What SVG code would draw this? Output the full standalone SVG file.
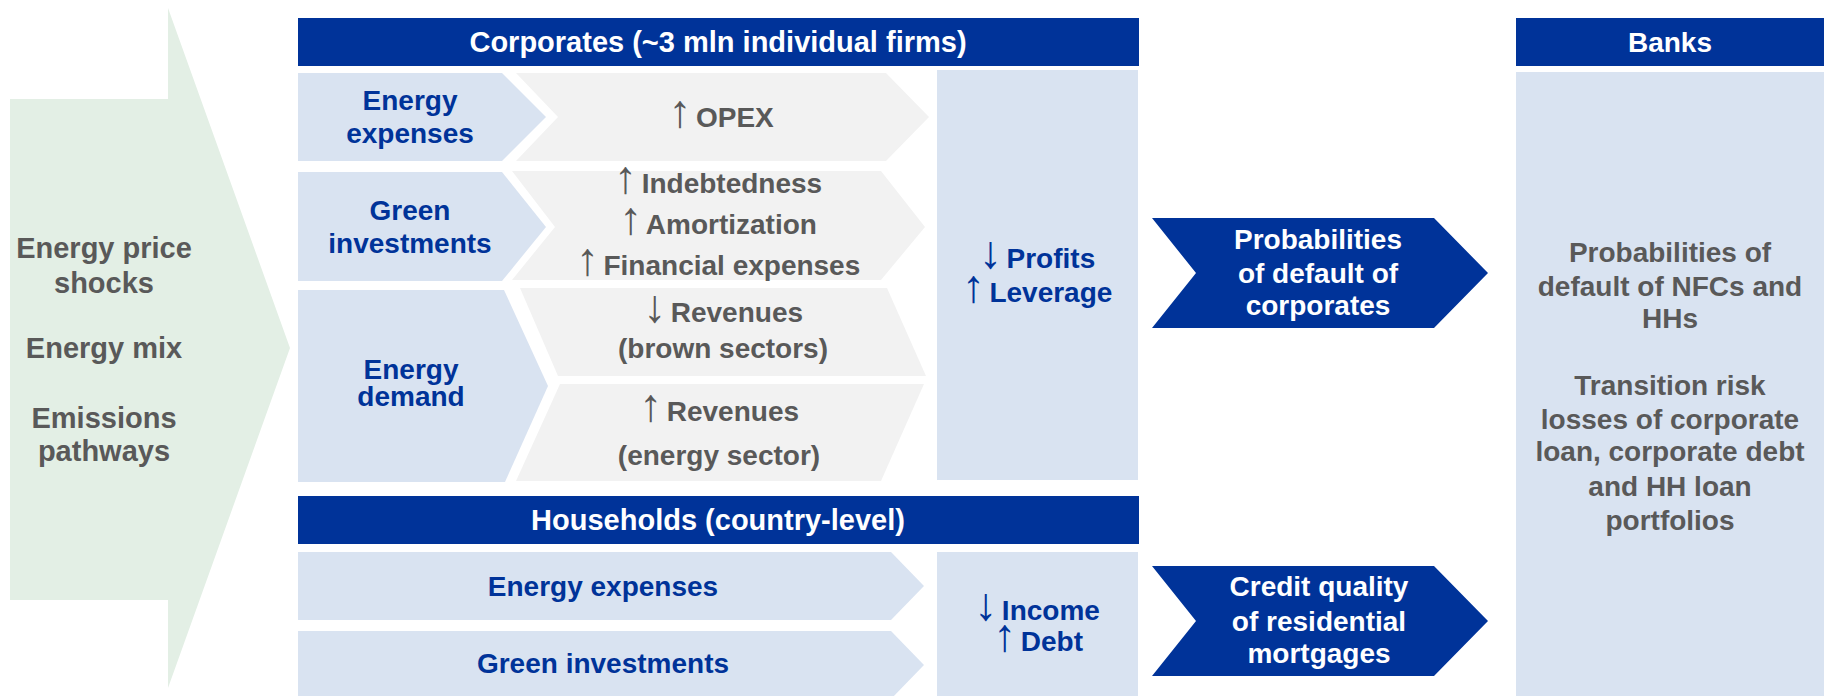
<svg xmlns="http://www.w3.org/2000/svg" width="1824" height="696" viewBox="0 0 1824 696">
<style>
text{font-family:"Liberation Sans",Arial,sans-serif;font-weight:bold;font-size:28px;text-anchor:middle}
.hd{fill:#003399}
.lb{fill:#D9E3F1}
.gr{fill:#F2F2F2}
.tw{fill:#FFFFFF}
.tb{fill:#003399}
.tg{fill:#595959}
.big{font-size:29px}
.ar{font-weight:normal;font-size:46px}
</style>
<rect width="1824" height="696" fill="#FFFFFF"/>
<g id="drivers">
<polygon points="10,99 168,99 168,8 290,348 168,688 168,600 10,600" fill="#E3EFE5"/>
<text class="tg big" x="104" y="258">Energy price</text>
<text class="tg big" x="104" y="293">shocks</text>
<text class="tg big" x="104" y="358">Energy mix</text>
<text class="tg big" x="104" y="428">Emissions</text>
<text class="tg big" x="104" y="461">pathways</text>
</g>
<g id="corporates-header">
<rect class="hd" x="298" y="18" width="841" height="48"/>
<text class="tw big" x="718" y="52">Corporates (~3 mln individual firms)</text>
</g>
<g id="corp-energy-expenses">
<polygon class="lb" points="298,73 502,73 546,117 502,161 298,161"/>
<text class="tb" x="410" y="110">Energy</text>
<text class="tb" x="410" y="143">expenses</text>
</g>
<g id="corp-opex">
<polygon class="gr" points="516,73 886,73 929,117 886,161 516,161 558,117"/>
<text class="tg" x="721" y="127"><tspan class="ar">↑</tspan><tspan dx="-3"> OPEX</tspan></text>
</g>
<g id="corp-green-investments">
<polygon class="lb" points="298,172 502,172 546,227 502,281 298,281"/>
<text class="tb" x="410" y="220">Green</text>
<text class="tb" x="410" y="253">investments</text>
</g>
<g id="corp-debt-effects">
<polygon class="gr" points="512,171 881,171 925,227 881,280 512,280 555,227"/>
<text class="tg" x="718" y="193"><tspan class="ar">↑</tspan><tspan dx="-3"> Indebtedness</tspan></text>
<text class="tg" x="718" y="234"><tspan class="ar">↑</tspan><tspan dx="-3"> Amortization</tspan></text>
<text class="tg" x="718" y="275"><tspan class="ar">↑</tspan><tspan dx="-3"> Financial expenses</tspan></text>
</g>
<g id="corp-energy-demand">
<polygon class="lb" points="298,290 504,290 548,386 505,482 298,482"/>
<text class="tb" x="411" y="379">Energy</text>
<text class="tb" x="411" y="406">demand</text>
</g>
<g id="corp-revenues-brown">
<polygon class="gr" points="520,288 887,288 926,376 558,376"/>
<text class="tg" x="723" y="322"><tspan class="ar">↓</tspan><tspan dx="-3"> Revenues</tspan></text>
<text class="tg" x="723" y="358">(brown sectors)</text>
</g>
<g id="corp-revenues-energy">
<polygon class="gr" points="560,384 924,384 881,481 516,481"/>
<text class="tg" x="719" y="421"><tspan class="ar">↑</tspan><tspan dx="-3"> Revenues</tspan></text>
<text class="tg" x="719" y="465">(energy sector)</text>
</g>
<g id="corp-profits">
<rect class="lb" x="937" y="70" width="201" height="410"/>
<text class="tb" x="1037" y="268"><tspan class="ar">↓</tspan><tspan dx="-3"> Profits</tspan></text>
<text class="tb" x="1037" y="302"><tspan class="ar">↑</tspan><tspan dx="-3"> Leverage</tspan></text>
</g>
<g id="pd-corporates">
<polygon class="hd" points="1152,218 1434,218 1488,273 1434,328 1152,328 1196,273"/>
<text class="tw" x="1318" y="249">Probabilities</text>
<text class="tw" x="1318" y="283">of default of</text>
<text class="tw" x="1318" y="315">corporates</text>
</g>
<g id="households-header">
<rect class="hd" x="298" y="496" width="841" height="48"/>
<text class="tw big" x="718" y="530">Households (country-level)</text>
</g>
<g id="hh-energy-expenses">
<polygon class="lb" points="298,552 891,552 924,586 891,620 298,620"/>
<text class="tb" x="603" y="596">Energy expenses</text>
</g>
<g id="hh-green-investments">
<polygon class="lb" points="298,631 891,631 924,665 891,699 298,699"/>
<text class="tb" x="603" y="673">Green investments</text>
</g>
<g id="hh-income">
<rect class="lb" x="937" y="552" width="201" height="144"/>
<text class="tb" x="1037" y="620"><tspan class="ar">↓</tspan><tspan dx="-3"> Income</tspan></text>
<text class="tb" x="1038" y="651"><tspan class="ar">↑</tspan><tspan dx="-3"> Debt</tspan></text>
</g>
<g id="credit-quality">
<polygon class="hd" points="1152,566 1434,566 1488,621 1434,676 1152,676 1196,621"/>
<text class="tw" x="1319" y="596">Credit quality</text>
<text class="tw" x="1319" y="631">of residential</text>
<text class="tw" x="1319" y="663">mortgages</text>
</g>
<g id="banks">
<rect class="hd" x="1516" y="18" width="308" height="48"/>
<text class="tw" x="1670" y="52">Banks</text>
<rect class="lb" x="1516" y="72" width="308" height="624"/>
<text class="tg" x="1670" y="262">Probabilities of</text>
<text class="tg" x="1670" y="296">default of NFCs and</text>
<text class="tg" x="1670" y="328">HHs</text>
<text class="tg" x="1670" y="395">Transition risk</text>
<text class="tg" x="1670" y="429">losses of corporate</text>
<text class="tg" x="1670" y="461">loan, corporate debt</text>
<text class="tg" x="1670" y="496">and HH loan</text>
<text class="tg" x="1670" y="530">portfolios</text>
</g>
</svg>
